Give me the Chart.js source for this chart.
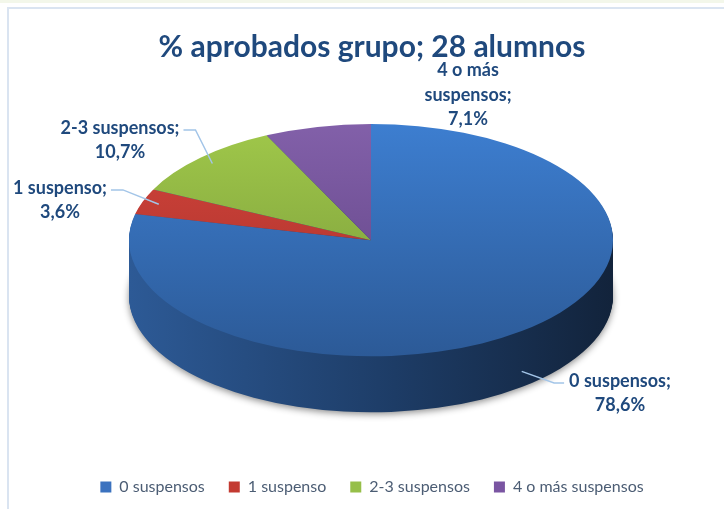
<!DOCTYPE html>
<html>
<head>
<meta charset="utf-8">
<script src="https://cdn.jsdelivr.net/npm/chart.js@4.4.1/dist/chart.umd.min.js"></script>
<style>
  html, body { margin: 0; padding: 0; background: #fff; }
  #wrap { position: relative; width: 724px; height: 509px; overflow: hidden; }
  #strip { position: absolute; left: 0; top: 0; width: 724px; height: 3px; background: #f3f7ea; }
  #frame { position: absolute; left: 7px; top: 7px; width: 740px; height: 530px; border: 2px solid #dae4f1; box-sizing: border-box; }
  canvas { position: absolute; left: 0; top: 0; }
</style>
</head>
<body>
<div id="wrap">
  <div id="strip"></div>
  <div id="frame"></div>
  <canvas id="chart" width="724" height="509"></canvas>
</div>
<script>
// datos del gráfico
const categorias = ['0 suspensos', '1 suspenso', '2-3 suspensos', '4 o más suspensos'];
const alumnos = [22, 1, 3, 2];
const porcentajes = [78.6, 3.6, 10.7, 7.1];

// colores
const coloresLeyenda = ['#3b72bf', '#c33a31', '#96bf49', '#7a55a2'];
const coloresCara = [
  ['#3d7ed0', '#2c5a97'],
  ['#d4453c', '#a42f29'],
  ['#a0c84a', '#769639'],
  ['#8260a9', '#5e4182']
];
const coloresLado = ['#2d5a96', '#1d3c66', '#12233b'];

// geometría del "3D"
const PIE = { rx: 242, tilt: 0.48, depth: 56, shiftX: -1 };

// posiciones de las etiquetas (respecto al centro de la elipse)
const ETIQUETAS = [
  { dx: 249, dy: 153, maxW: 200, k: 1.0, side: 0.72, leader: 'left' },
  { dx: -311, dy: -40, maxW: 200, k: 0.93, side: 0, leader: 'right' },
  { dx: -251, dy: -100, maxW: 200, k: 0.93, side: 0, leader: 'right' },
  { dx: 97, dy: -145, maxW: 110, k: 0.9, side: 0, leader: null }
];
const FUENTE_ETQ = 'bold 18px Lato';
const ALTO_LINEA = 24.5;

function geom(chart) {
  const arc = chart.getDatasetMeta(0).data[0];
  const area = chart.chartArea;
  const rx = PIE.rx, ry = PIE.rx * PIE.tilt;
  return {
    R: arc.outerRadius, ox: arc.x, oy: arc.y,
    rx, ry,
    cx: (area.left + area.right) / 2 + PIE.shiftX,
    cy: area.top + ry
  };
}

function aplicar(ctx, g, dy) {
  ctx.translate(g.cx, g.cy + dy);
  ctx.scale(g.rx / g.R, g.ry / g.R);
  ctx.translate(-g.ox, -g.oy);
}

function pintarArco(ctx, el, fill) {
  const saved = el.options;
  el.options = Object.assign({}, saved, { backgroundColor: fill, borderWidth: 0 });
  el.draw(ctx);
  el.options = saved;
}

const pie3d = {
  id: 'pie3d',
  beforeDatasetsDraw(chart) {
    const ctx = chart.ctx;
    const g = geom(chart);
    const arcs = chart.getDatasetMeta(0).data;

    // lateral
    const lado = ctx.createLinearGradient(g.ox - g.R, 0, g.ox + g.R, 0);
    lado.addColorStop(0, coloresLado[0]);
    lado.addColorStop(0.55, coloresLado[1]);
    lado.addColorStop(1, coloresLado[2]);
    for (let d = PIE.depth; d >= 1; d--) {
      ctx.save();
      if (d === PIE.depth) {
        ctx.shadowColor = 'rgba(0,0,0,0.45)';
        ctx.shadowBlur = 7;
        ctx.shadowOffsetY = 2;
      }
      aplicar(ctx, g, d);
      arcs.forEach(a => pintarArco(ctx, a, lado));
      ctx.restore();
    }

    // cara superior
    ctx.save();
    aplicar(ctx, g, 0);
    arcs.forEach((a, i) => {
      const gr = ctx.createLinearGradient(0, g.oy - g.R, 0, g.oy + g.R);
      gr.addColorStop(0, coloresCara[i][0]);
      gr.addColorStop(1, coloresCara[i][1]);
      pintarArco(ctx, a, gr);
    });
    ctx.restore();
    return false;
  },
  afterDraw(chart) {
    const ctx = chart.ctx;
    const g = geom(chart);
    const arcs = chart.getDatasetMeta(0).data;
    ctx.save();
    ctx.font = FUENTE_ETQ;
    ctx.textAlign = 'center';
    ctx.textBaseline = 'middle';
    arcs.forEach((a, i) => {
      const cfg = ETIQUETAS[i];
      const mid = (a.startAngle + a.endAngle) / 2;
      const ax = g.cx + Math.cos(mid) * g.rx * cfg.k;
      const ay = g.cy + Math.sin(mid) * g.ry * cfg.k + PIE.depth * cfg.side;

      // texto con ajuste de líneas
      const words = (categorias[i] + ';').split(' ');
      const lines = [];
      let cur = '';
      words.forEach(w => {
        const t = cur ? cur + ' ' + w : w;
        if (cur && ctx.measureText(t).width > cfg.maxW) { lines.push(cur); cur = w; }
        else cur = t;
      });
      lines.push(cur);
      lines.push(porcentajes[i].toFixed(1).replace('.', ',') + '%');

      const lx = g.cx + cfg.dx;
      const ly0 = g.cy + cfg.dy - (lines.length - 1) * ALTO_LINEA / 2;

      if (cfg.leader) {
        const w1 = ctx.measureText(lines[0]).width;
        const sx = cfg.leader === 'left' ? lx - w1 / 2 - 5 : lx + w1 / 2 + 4;
        const ex = cfg.leader === 'left' ? sx - 10 : sx + 12;
        ctx.beginPath();
        ctx.moveTo(sx, ly0 + 2);
        ctx.lineTo(ex, ly0 + 2);
        ctx.lineTo(ax, ay);
        ctx.strokeStyle = '#a3c5e8';
        ctx.lineWidth = 1.5;
        ctx.stroke();
      }
      ctx.fillStyle = '#1f497d';
      lines.forEach((t, j) => ctx.fillText(t, lx, ly0 + j * ALTO_LINEA));
    });
    ctx.restore();
  }
};

new Chart(document.getElementById('chart'), {
  type: 'pie',
  data: {
    labels: categorias,
    datasets: [{
      data: porcentajes,
      backgroundColor: coloresLeyenda,
      borderWidth: 0
    }]
  },
  options: {
    responsive: false,
    animation: false,
    events: [],
    layout: { padding: { left: 20, right: 0, top: 10, bottom: 4 } },
    plugins: {
      tooltip: { enabled: false },
      title: {
        display: true,
        text: '% aprobados grupo; 28 alumnos',
        color: '#1f497d',
        font: { family: 'Lato', size: 30, weight: 'bold' },
        padding: { top: 19, bottom: 59 }
      },
      legend: {
        position: 'bottom',
        labels: {
          boxWidth: 11,
          boxHeight: 11,
          padding: 24,
          color: '#4c5d74',
          font: { family: 'Lato', size: 16 }
        }
      }
    }
  },
  plugins: [pie3d]
});
</script>
</body>
</html>
